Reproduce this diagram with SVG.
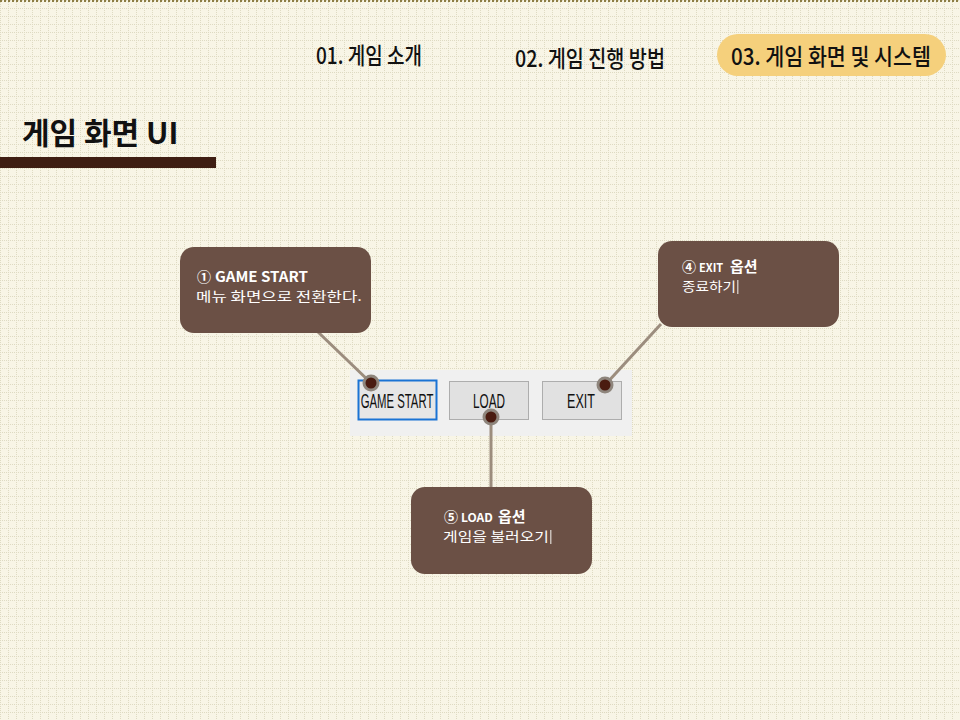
<svg xmlns="http://www.w3.org/2000/svg" width="960" height="720" viewBox="0 0 960 720">
<defs>
<pattern id="grid" x="0" y="0" width="8" height="8" patternUnits="userSpaceOnUse">
<rect width="8" height="8" fill="#F8F5E6"/>
<path d="M0 0.5H8 M0.5 0V8" stroke="#DEDAC2" stroke-width="1" stroke-dasharray="1 1"/>
</pattern>
<style>
.nav{font-family:"Noto Sans CJK KR","Noto Sans",sans-serif;font-size:23px;font-weight:500;fill:#111}
.box{fill:#6B5045}
.h{font-family:"Noto Sans CJK KR","Noto Sans",sans-serif;font-size:14px;font-weight:bold;fill:#fff}
.b{font-family:"Noto Sans CJK KR","Noto Sans",sans-serif;font-size:13px;fill:#fff}
.btn{font-family:"Liberation Sans",Arial,sans-serif;font-size:21px;fill:#111}
.conn{stroke:#9C8D7E;stroke-width:3;fill:none}
.dot{fill:#4A1B10;stroke:#8E857C;stroke-width:3}
</style>
</defs>
<rect width="960" height="720" fill="url(#grid)"/>
<line x1="0" y1="1" x2="960" y2="1" stroke="#8C7D45" stroke-width="2" stroke-dasharray="2 2"/>

<g id="nav">
<text class="nav" x="316" y="64" textLength="106" lengthAdjust="spacingAndGlyphs">01. 게임 소개</text>
<text class="nav" x="515" y="67" textLength="150" lengthAdjust="spacingAndGlyphs">02. 게임 진행 방법</text>
<rect x="717" y="34" width="229" height="42" rx="21" fill="#F5D07C"/>
<text class="nav" x="731" y="65" textLength="200" lengthAdjust="spacingAndGlyphs">03. 게임 화면 및 시스템</text>
</g>

<g id="title">
<text x="22" y="144" font-family="'Noto Sans CJK KR','Noto Sans',sans-serif" font-size="30" font-weight="bold" fill="#111">게임 화면 UI</text>
<rect x="0" y="157" width="216" height="11" fill="#3F1E13"/>
</g>

<g id="screenshot">
<rect x="350" y="370" width="282" height="66" fill="#F0F0F0"/>
<rect x="358.5" y="380.5" width="78" height="39" fill="#E6E6E6" stroke="#1A73D4" stroke-width="2"/>
<text class="btn" transform="translate(397 408) scale(0.54 1)" text-anchor="middle">GAME START</text>
<rect x="449.5" y="381.5" width="79" height="38" fill="#E1E1E1" stroke="#ADADAD" stroke-width="1"/>
<text class="btn" transform="translate(489 408) scale(0.56 1)" text-anchor="middle">LOAD</text>
<rect x="542.5" y="381.5" width="79" height="38" fill="#E1E1E1" stroke="#ADADAD" stroke-width="1"/>
<text class="btn" transform="translate(581 408) scale(0.6 1)" text-anchor="middle">EXIT</text>
</g>

<g id="connectors">
<line class="conn" x1="318" y1="332" x2="371" y2="383"/>
<line class="conn" x1="661" y1="324" x2="605" y2="385"/>
<line class="conn" x1="491" y1="417" x2="491" y2="493"/>
<circle class="dot" cx="371" cy="383" r="7"/>
<circle class="dot" cx="605" cy="385" r="7"/>
<circle class="dot" cx="491" cy="417" r="7"/>
</g>

<g id="callout1">
<rect class="box" x="180" y="247" width="191" height="86" rx="14"/>
<text class="h" x="197" y="282">① <tspan x="215" textLength="93" lengthAdjust="spacingAndGlyphs">GAME START</tspan></text>
<text class="b" x="196" y="301" textLength="166" lengthAdjust="spacingAndGlyphs">메뉴 화면으로 전환한다.</text>
</g>

<g id="callout4">
<rect class="box" x="658" y="241" width="181" height="86" rx="14"/>
<text class="h" x="682" y="272">④ <tspan x="699" font-size="11">EXIT</tspan><tspan x="730" font-size="15">옵션</tspan></text>
<text class="b" x="682" y="291" textLength="54" lengthAdjust="spacingAndGlyphs">종료하기</text>
<rect x="737" y="280" width="1.5" height="14" fill="#C8BEB8"/>
</g>

<g id="callout5">
<rect class="box" x="411" y="487" width="181" height="87" rx="14"/>
<text class="h" x="444" y="522">⑤ <tspan x="461" font-size="12">LOAD</tspan><tspan x="498" font-size="15">옵션</tspan></text>
<text class="b" x="443" y="541" textLength="106" lengthAdjust="spacingAndGlyphs">게임을 불러오기</text>
<rect x="550" y="530" width="1.5" height="14" fill="#C8BEB8"/>
</g>
</svg>
